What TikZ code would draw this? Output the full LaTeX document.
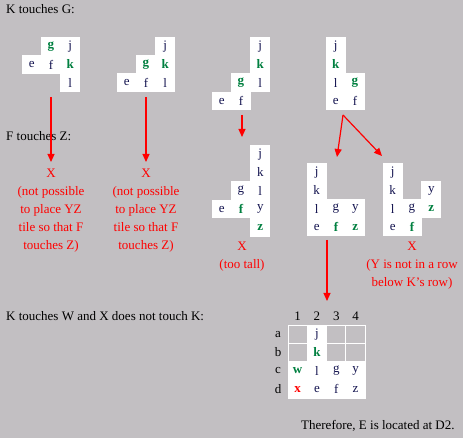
\documentclass[tikz,border=0pt]{standalone}
\usepackage{fontspec}
\setmainfont{Liberation Serif}
\usetikzlibrary{arrows.meta}
\definecolor{bg}{RGB}{194,191,194}
\definecolor{tgreen}{RGB}{0,128,64}
\definecolor{tred}{RGB}{255,0,0}
\definecolor{tnavy}{RGB}{20,20,80}
\newcommand\tc[5]{\node[cell,#5] (#1) at ({(#2+0.5)*19.3},{(#3+0.5)*18.3}) {#4};}
\tikzset{
  cell/.style={fill=white, minimum width=19.7pt, minimum height=18.7pt, inner sep=0pt,
    font=\fontsize{13}{13}\selectfont, text=tnavy},
  hl/.style={text=tgreen, font=\fontsize{13}{13}\selectfont\bfseries},
  rd/.style={text=tred, font=\fontsize{13}{13}\selectfont\bfseries},
  head/.style={anchor=base west, inner sep=0pt, text=black, font=\fontsize{13}{18}\selectfont},
  verdict/.style={anchor=north, inner sep=0pt, align=center, text=tred, font=\fontsize{13}{18}\selectfont},
  arr/.style={draw=tred, line width=1.2pt, -{Triangle[length=8pt,width=7pt]}},
  gcell/.style={draw=white, line width=1pt, minimum width=19.3pt, minimum height=18.3pt, inner sep=0pt,
    font=\fontsize{13}{13}\selectfont, text=tnavy},
  lab/.style={inner sep=0pt, text=black, font=\fontsize{13}{13}\selectfont}
}
\begin{document}
\begin{tikzpicture}[x=1pt,y=-1pt]
\fill[bg] (0,0) rectangle (463,438);
\useasboundingbox (0,0) rectangle (463,438);

% headers
\node[head] (h1) at (6,14) {K touches G:};
\node[head] (h2) at (6,141) {F touches Z:};
\node[head] (h3) at (6,320) {K touches W and X does not touch K:};
\node[head] (h4) at (301,429) {Therefore, E is located at D2.};

% tile 1
\begin{scope}[shift={(22,37)}]
\tc{a1}{1}{0}{g}{hl} \tc{a2}{2}{0}{j}{} \tc{a3}{0}{1}{e}{} \tc{a4}{1}{1}{f}{}
\tc{a5}{2}{1}{k}{hl} \tc{a6}{2}{2}{l}{}
\end{scope}
% tile 2
\begin{scope}[shift={(117,37)}]
\tc{b1}{2}{0}{j}{} \tc{b2}{1}{1}{g}{hl} \tc{b3}{2}{1}{k}{hl} \tc{b4}{0}{2}{e}{}
\tc{b5}{1}{2}{f}{} \tc{b6}{2}{2}{l}{}
\end{scope}
% tile 3
\begin{scope}[shift={(212,37)}]
\tc{c1}{2}{0}{j}{} \tc{c2}{2}{1}{k}{hl} \tc{c3}{1}{2}{g}{hl} \tc{c4}{2}{2}{l}{}
\tc{c5}{0}{3}{e}{} \tc{c6}{1}{3}{f}{}
\end{scope}
% tile 4
\begin{scope}[shift={(326,37)}]
\tc{d1}{0}{0}{j}{} \tc{d2}{0}{1}{k}{hl} \tc{d3}{0}{2}{l}{} \tc{d4}{1}{2}{g}{hl}
\tc{d5}{0}{3}{e}{} \tc{d6}{1}{3}{f}{}
\end{scope}
% tile 5
\begin{scope}[shift={(212,145)}]
\tc{e1}{2}{0}{j}{} \tc{e2}{2}{1}{k}{} \tc{e3}{1}{2}{g}{} \tc{e4}{2}{2}{l}{}
\tc{e5}{0}{3}{e}{} \tc{e6}{1}{3}{f}{hl} \tc{e7}{2}{3}{y}{} \tc{e8}{2}{4}{z}{hl}
\end{scope}
% tile 6
\begin{scope}[shift={(307,163)}]
\tc{f1}{0}{0}{j}{} \tc{f2}{0}{1}{k}{} \tc{f3}{0}{2}{l}{} \tc{f4}{1}{2}{g}{}
\tc{f5}{2}{2}{y}{} \tc{f6}{0}{3}{e}{} \tc{f7}{1}{3}{f}{hl} \tc{f8}{2}{3}{z}{hl}
\end{scope}
% tile 7
\begin{scope}[shift={(383,163)}]
\tc{g1}{0}{0}{j}{} \tc{g2}{0}{1}{k}{} \tc{g3}{0}{2}{l}{} \tc{g4}{1}{2}{g}{}
\tc{g5}{2}{1}{y}{} \tc{g6}{2}{2}{z}{hl} \tc{g7}{0}{3}{e}{} \tc{g8}{1}{3}{f}{hl}
\end{scope}

% verdicts
\node[verdict] (v1) at (51,168.4) {X\\(not possible\\to place YZ\\tile so that F\\touches Z)};
\node[verdict] (v2) at (146,168.4) {X\\(not possible\\to place YZ\\tile so that F\\touches Z)};
\node[verdict] (v3) at (242,241.4) {X\\(too tall)};
\node[verdict] (v4) at (412,241.4) {X\\(Y is not in a row\\below K's row)};

% final grid
\begin{scope}[shift={(288,325)}]
\node[gcell,fill=bg] (ga1) at (9.65,9.15) {};
\node[gcell,fill=white] (ga2) at (28.95,9.15) {j};
\node[gcell,fill=bg] (ga3) at (48.25,9.15) {};
\node[gcell,fill=bg] (ga4) at (67.55,9.15) {};
\node[gcell,fill=bg] (gb1) at (9.65,27.45) {};
\node[gcell,fill=white,hl] (gb2) at (28.95,27.45) {k};
\node[gcell,fill=bg] (gb3) at (48.25,27.45) {};
\node[gcell,fill=bg] (gb4) at (67.55,27.45) {};
\node[gcell,fill=white,hl] (gc1) at (9.65,45.75) {w};
\node[gcell,fill=white] (gc2) at (28.95,45.75) {l};
\node[gcell,fill=white] (gc3) at (48.25,45.75) {g};
\node[gcell,fill=white] (gc4) at (67.55,45.75) {y};
\node[gcell,fill=white,rd] (gd1) at (9.65,64.05) {x};
\node[gcell,fill=white] (gd2) at (28.95,64.05) {e};
\node[gcell,fill=white] (gd3) at (48.25,64.05) {f};
\node[gcell,fill=white] (gd4) at (67.55,64.05) {z};
\node[lab] (n1) at (9.65,-9) {1};
\node[lab] (n2) at (28.95,-9) {2};
\node[lab] (n3) at (48.25,-9) {3};
\node[lab] (n4) at (67.55,-9) {4};
\node[lab] (ra) at (-10,9.15) {a};
\node[lab] (rb) at (-10,27.45) {b};
\node[lab] (rc) at (-10,45.75) {c};
\node[lab] (rd) at (-10,64.05) {d};
\end{scope}

% arrows
\coordinate (s1) at (51,97);
\coordinate (s2) at (146,97);
\coordinate (s3) at (242,115);
\coordinate (s4) at (343,115);
\coordinate (s6) at (327,240);
\coordinate (t1) at (51,162);
\coordinate (t2) at (146,162);
\coordinate (t3) at (242,137);
\coordinate (t4) at (337,157);
\coordinate (t5) at (382,156);
\coordinate (t6) at (327,301);
\draw[arr] (s1) -- (t1);
\draw[arr] (s2) -- (t2);
\draw[arr] (s3) -- (t3);
\draw[arr] (s4) -- (t4);
\draw[arr] (s4) -- (t5);
\draw[arr] (s6) -- (t6);
\end{tikzpicture}
\end{document}
